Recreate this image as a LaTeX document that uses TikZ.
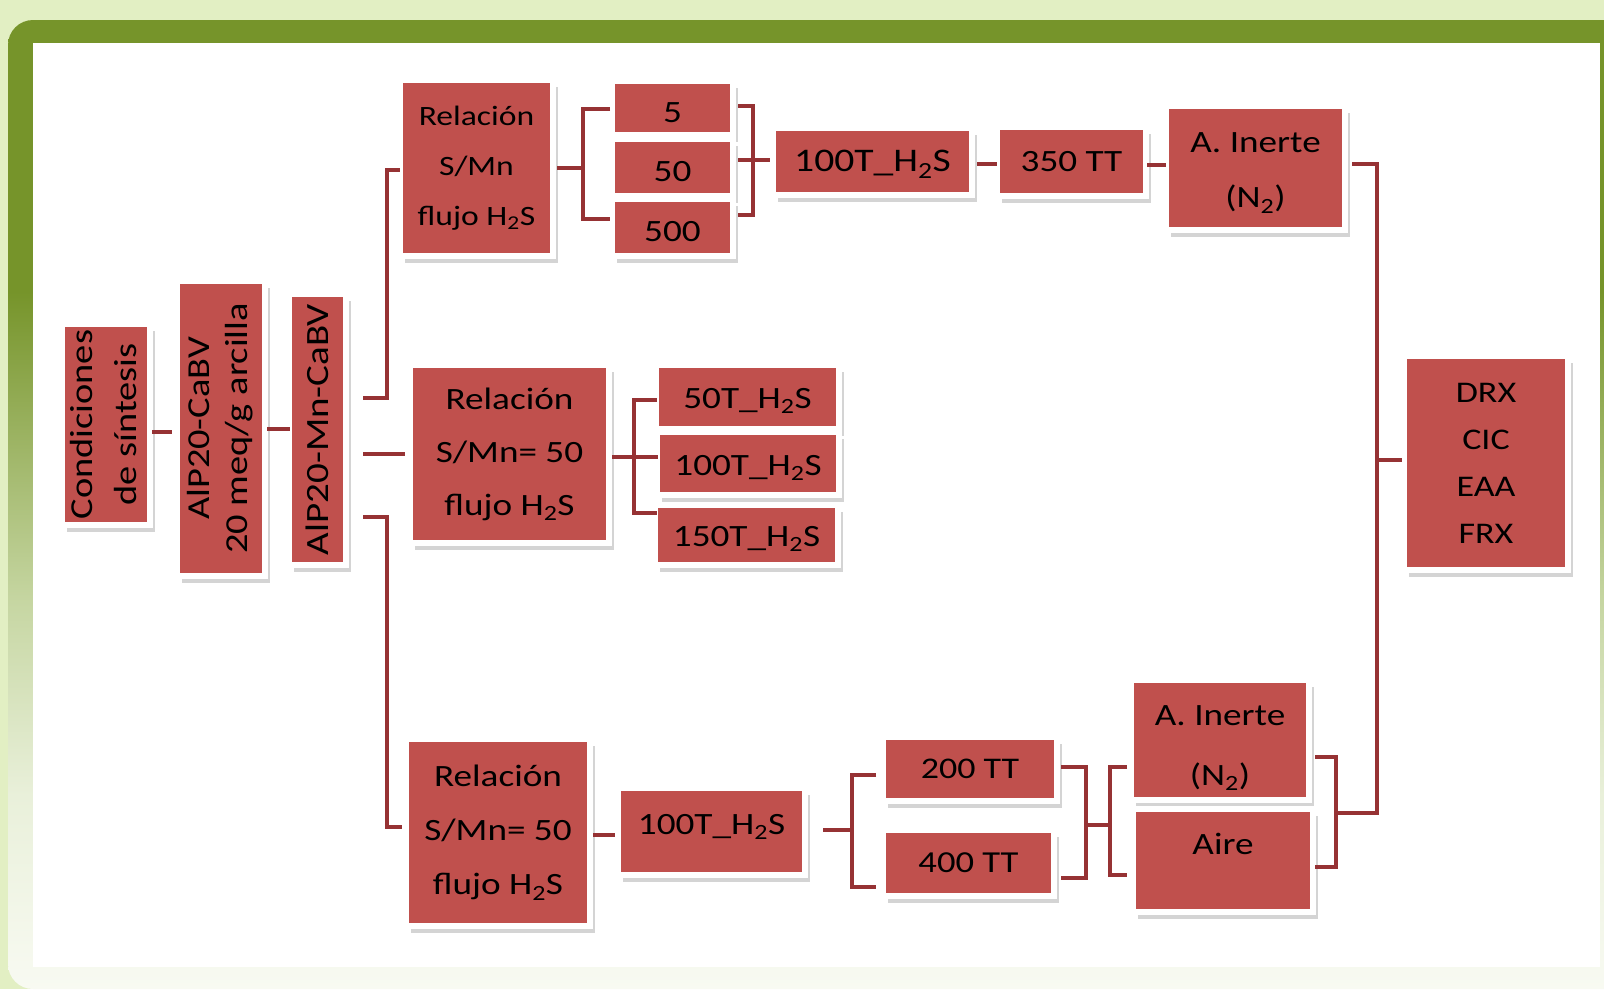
\documentclass[tikz,border=0pt]{standalone}
\usepackage{fontspec}
\setmainfont{Carlito}[FakeStretch=1.2]
\usepackage{graphicx}
\usetikzlibrary{shadows}
\definecolor{bggreen}{HTML}{E2EFC3}
\definecolor{framegreen}{HTML}{76942A}
\definecolor{fmid}{HTML}{C6D6A2}
\definecolor{fpale2}{HTML}{E9F0DA}
\definecolor{fpale}{HTML}{F8FAF2}
\definecolor{boxred}{HTML}{C0504D}
\definecolor{connred}{HTML}{963234}
\pgfdeclareverticalshading{frameshade}{100bp}{color(0bp)=(fpale); color(25bp)=(fpale); color(35bp)=(fpale2); color(45bp)=(fmid); color(61bp)=(framegreen); color(100bp)=(framegreen)}
\newcommand\HtwoS{H\textsubscript{2}S}
\tikzset{
  rbox/.style={rectangle, fill=boxred, draw=white, line width=6pt, inner sep=0pt, outer sep=-3pt,
    align=center, text=black,
    general shadow={fill=black!17, shadow xshift=5pt, shadow yshift=-7pt}},
  sz/.style 2 args={minimum width={#1+6}, minimum height={#2+6}},
  fnt/.style 2 args={font=\fontsize{#1}{#2}\selectfont},
  conn/.style={draw=connred, line width=4pt}
}
\begin{document}
\begin{tikzpicture}[x=1pt,y=-1pt]
\useasboundingbox (0,0) rectangle (1604,989);
\begin{scope}
\clip (0,0) rectangle (1604,989);
\fill[bggreen] (0,0) rectangle (1604,989);
\shade[shading=frameshade, rounded corners=25] (8,20) rectangle (1640,989);
\fill[white] (33,43) rectangle (1600,967);
\end{scope}

% nodes
\node[rbox, sz={72}{195}, fnt={32}{44}] (cond) at (106,424.5)
  {\rotatebox{90}{\begin{tabular}{@{}c@{}}Condiciones\\de síntesis\end{tabular}}};
\node[rbox, sz={82}{289}, fnt={32}{38}] (alp) at (221,428.5)
  {\rotatebox{90}{\begin{tabular}{@{}c@{}}AlP20-CaBV\\20 meq/g arcilla\end{tabular}}};
\node[rbox, sz={51}{265}, fnt={32.5}{38}] (mn) at (317.5,429.5)
  {\rotatebox{90}{AlP20-Mn-CaBV}};

\node[rbox, sz={147}{170}, fnt={28}{50}] (rel1) at (476.5,168) {Relación\\S/Mn\\flujo \HtwoS};
\node[rbox, sz={115}{48}, fnt={31}{31}, text height=30pt] (s5) at (672.5,108) {5};
\node[rbox, sz={115}{51}, fnt={31}{31}, text height=28pt] (s50) at (672.5,167.5) {50};
\node[rbox, sz={115}{51}, fnt={31}{31}, text height=29pt] (s500) at (672.5,227.5) {500};
\node[rbox, sz={193}{61}, fnt={33}{33}, text height=27pt] (t100a) at (872.5,161.5) {100T\_\HtwoS};
\node[rbox, sz={143}{63}, fnt={31}{31}] (tt350) at (1071.5,161.5) {350 TT};
\node[rbox, sz={173}{118}, fnt={31}{55}] (inA) at (1255.5,168) {\rule{0pt}{30pt}A. Inerte\\(N\textsubscript{2})};
\node[rbox, sz={158}{208}, fnt={30}{47}] (drx) at (1486,463) {DRX\\CIC\\EAA\\FRX};

\node[rbox, sz={193}{172}, fnt={31}{53}] (rel2) at (509.5,454) {Relación\\S/Mn= 50\\flujo \HtwoS};
\node[rbox, sz={177}{58}, fnt={31}{31}, text height=28pt] (t50) at (747.5,397) {50T\_\HtwoS};
\node[rbox, sz={176}{57}, fnt={31}{31}, text height=29pt] (t100b) at (748,463.5) {100T\_\HtwoS};
\node[rbox, sz={177}{54}, fnt={31}{31}, text height=28pt] (t150) at (746.5,535) {150T\_\HtwoS};

\node[rbox, sz={178}{181}, fnt={31}{54}] (rel3) at (498,832.5) {Relación\\S/Mn= 50\\flujo \HtwoS};
\node[rbox, sz={181}{81}, fnt={31}{31}, text depth=15pt] (t100c) at (711.5,831.5) {100T\_\HtwoS};
\node[rbox, sz={168}{58}, fnt={30}{30}] (tt200) at (970,769) {200 TT};
\node[rbox, sz={165}{60}, fnt={30.5}{30}] (tt400) at (968.5,863) {400 TT};
\node[rbox, sz={172}{114}, fnt={31}{60}] (inB) at (1220,740) {\rule{0pt}{36pt}A. Inerte\\(N\textsubscript{2})};
\node[rbox, sz={174}{97}, fnt={31}{31}, text depth=34pt] (aire) at (1223,860.5) {Aire};

% connectors
\draw[conn] ([xshift=5pt]cond.east |- 0,432) -- ([xshift=-8pt]alp.west |- 0,432);
\draw[conn] ([xshift=5pt]alp.east |- 0,429) -- ([xshift=-2pt]mn.west |- 0,429);
\draw[conn] ([xshift=20pt]mn.east |- 0,398) -- ++(24,0) |- ([xshift=-3pt]rel1.west |- 0,170);
\draw[conn] ([xshift=20pt]mn.east |- 0,454) -- ([xshift=-8pt]rel2.west |- 0,454);
\draw[conn] ([xshift=20pt]mn.east |- 0,517) -- ++(24,0) |- ([xshift=-7pt]rel3.west |- 0,827);

\draw[conn] ([xshift=7pt]rel1.east |- 0,168) -- ++(26,0);
\draw[conn] ([xshift=-5pt]s5.west |- 0,109) -- ++(-27,0) |- ([xshift=-5pt]s500.west |- 0,219);
\draw[conn] ([xshift=8pt]s5.east |- 0,106) -- ++(15,0) |- ([xshift=8pt]s500.east |- 0,215);
\draw[conn] ([xshift=8pt]s50.east |- 0,160) -- ([xshift=-6pt]t100a.west |- 0,160);
\draw[conn] ([xshift=8pt]t100a.east |- 0,164) -- ([xshift=-3pt]tt350.west |- 0,164);
\draw[conn] ([xshift=4pt]tt350.east |- 0,165) -- ([xshift=-3pt]inA.west |- 0,165);
\draw[conn] ([xshift=10pt]inA.east |- 0,164) -| ([xshift=-30pt]drx.west |- 0,813) -- ([xshift=26pt]aire.east |- 0,813);
\draw[conn] ([xshift=-30pt]drx.west |- 0,460) -- ([xshift=-5pt]drx.west |- 0,460);
\draw[conn] ([xshift=9pt]inB.east |- 0,757) -| ([xshift=26pt]aire.east |- 0,867) -- ([xshift=5pt]aire.east |- 0,867);

\draw[conn] ([xshift=6pt]rel2.east |- 0,457) -- ([xshift=-2pt]t100b.west |- 0,457);
\draw[conn] ([xshift=-2pt]t50.west |- 0,400) -| ([xshift=-24pt]t150.west |- 0,513) -- ([xshift=-1pt]t150.west |- 0,513);

\draw[conn] ([xshift=6pt]rel3.east |- 0,835) -- ([xshift=-6pt]t100c.west |- 0,835);
\draw[conn] ([xshift=21pt]t100c.east |- 0,830) -- ++(29,0);
\draw[conn] ([xshift=-10pt]tt200.west |- 0,775) -| ([xshift=-34pt]tt400.west |- 0,887) -- ([xshift=-10pt]tt400.west |- 0,887);
\draw[conn] ([xshift=7pt]tt200.east |- 0,767) -| ([xshift=35pt]tt400.east |- 0,878) -- ([xshift=10pt]tt400.east |- 0,878);
\draw[conn] ([xshift=35pt]tt400.east |- 0,825) -- ([xshift=-24pt]inB.west |- 0,825);
\draw[conn] ([xshift=-7pt]inB.west |- 0,767) -| ([xshift=-26pt]aire.west |- 0,875) -- ([xshift=-9pt]aire.west |- 0,875);
\end{tikzpicture}
\end{document}
